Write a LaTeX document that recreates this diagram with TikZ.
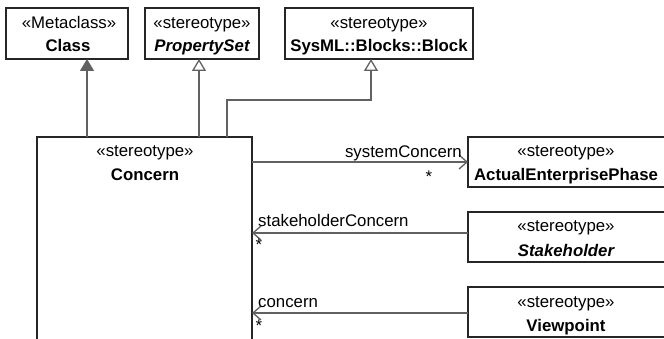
\documentclass[tikz,border=0pt]{standalone}
\usepackage{fontspec}
\setmainfont{Liberation Sans}
\usetikzlibrary{arrows.meta,calc}
\begin{document}
\begin{tikzpicture}[x=1pt,y=-1pt,
  font=\fontsize{16.8}{20}\selectfont,
  box/.style={draw=black!85, line width=1.6pt, inner sep=0pt, outer sep=0pt, anchor=north west, fill=white},
  conn/.style={draw=black!62, line width=1.3pt},
  gen/.style={conn, -{Triangle[open, length=12pt, width=14pt, line width=1.3pt]}},
  genf/.style={conn, -{Triangle[length=12pt, width=14pt]}},
  assoc/.style={conn, -{Straight Barb[length=8pt, width=14pt, line width=1.3pt]}},
  txt/.style={anchor=base, inner sep=0pt, text=black},
  lbl/.style={inner sep=0pt, text=black}]
\useasboundingbox (0,0) rectangle (664,339);
\clip (0,0) rectangle (664,339);
\fill[white] (0,0) rectangle (664,339);

% boxes
\node[box, minimum width=122pt, minimum height=51pt] (Class) at (6,8) {};
\node[box, minimum width=114pt, minimum height=51pt] (PropSet) at (145,8) {};
\node[box, minimum width=188pt, minimum height=51pt] (Block) at (285,8) {};
\node[box, minimum width=215pt, minimum height=240pt] (Concern) at (37,137) {};
\node[box, minimum width=210pt, minimum height=50pt] (AEP) at (468,137) {};
\node[box, minimum width=210pt, minimum height=50pt] (Stake) at (468,212) {};
\node[box, minimum width=210pt, minimum height=50pt] (View) at (468,287) {};

% box texts
\node[txt] (ClassS) at (69,28.5) {«Metaclass»};
\node[txt] (ClassN) at (68,52) {\bfseries Class};
\node[txt] (PropS) at (202,28.5) {«stereotype»};
\node[txt] (PropN) at (202,52) {\bfseries\itshape PropertySet};
\node[txt] (BlockS) at (379,28.5) {«stereotype»};
\node[txt] (BlockN) at (379,52) {\bfseries SysML::Blocks::Block};
\node[txt] (ConS) at (145,157) {«stereotype»};
\node[txt] (ConN) at (145,181) {\bfseries Concern};
\node[txt] (AEPS) at (566,157) {«stereotype»};
\node[txt] (AEPN) at (566,181) {\bfseries ActualEnterprisePhase};
\node[txt] (StakeS) at (566,232) {«stereotype»};
\node[txt] (StakeN) at (566,256) {\bfseries\itshape Stakeholder};
\node[txt] (ViewS) at (566,307) {«stereotype»};
\node[txt] (ViewN) at (566,331) {\bfseries Viewpoint};

% generalizations
\coordinate (g1) at (87,137);
\coordinate (g2) at (199,137);
\coordinate (g3) at (227,137);
\coordinate (g3b) at (227,100);
\coordinate (g3c) at (371,100);
\draw[genf] (g1) -- (g1 |- Class.south);
\draw[gen] (g2) -- (g2 |- PropSet.south);
\draw[gen] (g3) -- (g3b) -- (g3c) -- (g3c |- Block.south);

% associations
\coordinate (a1) at (252,162);
\coordinate (a2) at (468,233);
\coordinate (a3) at (468,313);
\draw[assoc] (a1) -- (a1 -| AEP.west);
\draw[assoc] (a2) -- (a2 -| Concern.east);
\draw[assoc] (a3) -- (a3 -| Concern.east);

% labels
\node[lbl, anchor=base east] (l1) at (462,158) {systemConcern};
\node[lbl] (m1) at (429,177) {*};
\node[lbl, anchor=base west] (l2) at (258,227) {stakeholderConcern};
\node[lbl] (m2) at (259,245) {*};
\node[lbl, anchor=base west] (l3) at (258,307) {concern};
\node[lbl] (m3) at (259,326) {*};
\end{tikzpicture}
\end{document}
